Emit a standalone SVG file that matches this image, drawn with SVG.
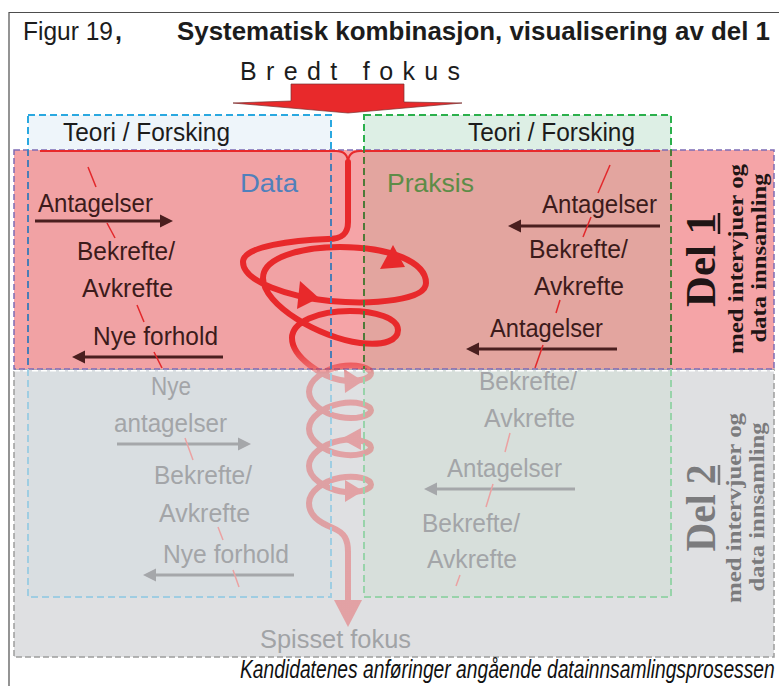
<svg xmlns="http://www.w3.org/2000/svg" width="779" height="686" viewBox="0 0 779 686">
  <style>
    .t{font-family:"Liberation Sans",Arial,sans-serif;font-size:25px}
    .dk{fill:#3c1b1b}
    .gr{fill:#a3a5a8}
    .hd{fill:#1c1c1c}
    .ser{font-family:"Liberation Serif","Times New Roman",serif;font-weight:bold;text-anchor:middle}
    .sl{stroke:#e2282b;stroke-width:1.5}
    .slf{stroke:#eba2a2;stroke-width:1.5}
    .ad{stroke:#4a1f1f;stroke-width:3;fill:none;marker-end:url(#hd)}
    .ag{stroke:#a5a7aa;stroke-width:3;fill:none;marker-end:url(#hg)}
    .bx{fill:none;stroke-width:2;stroke-dasharray:7 4}
  </style>
  <defs>
    <marker id="hd" markerUnits="userSpaceOnUse" markerWidth="14" markerHeight="14" refX="2" refY="6.5" orient="auto" viewBox="0 0 14 13">
      <path d="M0,0 L13,6.5 L0,13 z" fill="#4a1f1f"/>
    </marker>
    <marker id="hg" markerUnits="userSpaceOnUse" markerWidth="14" markerHeight="14" refX="2" refY="6.5" orient="auto" viewBox="0 0 14 13">
      <path d="M0,0 L13,6.5 L0,13 z" fill="#a5a7aa"/>
    </marker>
    <clipPath id="zHead"><rect x="0" y="0" width="779" height="150"/></clipPath>
    <clipPath id="zRed"><rect x="0" y="150" width="779" height="219"/></clipPath>
    <clipPath id="zGray"><rect x="0" y="369" width="779" height="317"/></clipPath>
    <linearGradient id="fadeGrad" gradientUnits="userSpaceOnUse" x1="0" y1="345" x2="0" y2="374">
      <stop offset="0" stop-color="#fff" stop-opacity="1"/>
      <stop offset="1" stop-color="#fff" stop-opacity="0.34"/>
    </linearGradient>
    <mask id="fade" maskUnits="userSpaceOnUse" x="0" y="0" width="779" height="686">
      <rect x="0" y="0" width="779" height="686" fill="url(#fadeGrad)"/>
    </mask>
  </defs>

  <rect width="779" height="686" fill="#fff"/>
  <!-- outer frame -->
  <path d="M9,700 V12.5 H790" fill="none" stroke="#4d4d4d" stroke-width="1.2"/>

  <!-- title -->
  <g id="title">
    <text class="t hd" x="23" y="40" font-size="25" textLength="90" lengthAdjust="spacingAndGlyphs">Figur 19</text>
    <text class="t hd" x="115" y="40" font-size="25" font-weight="bold">,</text>
    <text class="t hd" x="177" y="40" font-size="25" font-weight="bold" textLength="593" lengthAdjust="spacingAndGlyphs">Systematisk kombinasjon, visualisering av del 1</text>
    <text class="t hd" x="240" y="80" font-size="24" textLength="220">Bredt fokus</text>
  </g>

  <!-- box headers -->
  <rect x="28" y="115" width="303" height="35" fill="#eef5fa"/>
  <rect x="364" y="115" width="307" height="35" fill="#ddefe5"/>

  <!-- Del 2 band -->
  <g id="band-del2">
    <rect x="14" y="369" width="760" height="288" fill="#dfe0e2"/>
    <rect x="28" y="369" width="303" height="228" fill="#d9dee1"/>
    <rect x="364" y="369" width="307" height="228" fill="#d7dfdb"/>
    <rect x="14" y="369" width="760" height="288" fill="none" stroke="#9d9d9d" stroke-width="1.5" stroke-dasharray="6 3"/>
    <g transform="translate(715,508) rotate(-90)">
      <text class="ser" font-size="42" fill="#7b7b7d" textLength="87" lengthAdjust="spacingAndGlyphs">Del 2</text>
      <line x1="23" y1="4" x2="43" y2="4" stroke="#7b7b7d" stroke-width="2.5"/>
    </g>
    <text class="ser" font-size="21" fill="#7b7b7d" transform="translate(741,508) rotate(-90)" textLength="190" lengthAdjust="spacingAndGlyphs">med intervjuer og</text>
    <text class="ser" font-size="21" fill="#7b7b7d" transform="translate(764,507) rotate(-90)" textLength="169" lengthAdjust="spacingAndGlyphs">data innsamling</text>
  </g>

  <!-- Del 1 band -->
  <g id="band-del1">
    <rect x="14" y="150" width="760" height="219" fill="#f5a4a7"/>
    <rect x="28" y="150" width="303" height="219" fill="#f1a2a4"/>
    <rect x="364" y="150" width="307" height="219" fill="#e3a59f"/>
    <line x1="14" y1="370.8" x2="774" y2="370.8" stroke="#fff" stroke-width="1.5" stroke-dasharray="6 3"/>
    <rect x="14" y="150" width="760" height="219" fill="none" stroke="#7d6cb5" stroke-width="1.5" stroke-dasharray="6 3"/>
    <g transform="translate(715,260) rotate(-90)">
      <text class="ser" font-size="42" fill="#1f1515" textLength="94" lengthAdjust="spacingAndGlyphs">Del 1</text>
      <line x1="26" y1="4" x2="47" y2="4" stroke="#1f1515" stroke-width="2.5"/>
    </g>
    <text class="ser" font-size="21" fill="#1f1515" transform="translate(743,259) rotate(-90)" textLength="190" lengthAdjust="spacingAndGlyphs">med intervjuer og</text>
    <text class="ser" font-size="21" fill="#1f1515" transform="translate(766,258) rotate(-90)" textLength="169" lengthAdjust="spacingAndGlyphs">data innsamling</text>
  </g>

  <!-- connectors: broad-focus arrow and spiral -->
  <g id="connectors">
    <polygon points="291,84 404,84 404,102 462,103 348,113 233,103 291,101" fill="#e8292b" stroke="#7a3030" stroke-width="0.7"/>
    <g mask="url(#fade)" fill="#e8292b">
      <path d="M40,151 H336 Q348,151 348,163 M660,151 H360 Q348,151 348,163" fill="none" stroke="#e8292b" stroke-width="2"/>
      <path fill="none" stroke="#e8292b" stroke-width="6" stroke-linecap="round" stroke-linejoin="round"
        d="M348,162 L348,222 C348,234 342,239 328,239 C295,240 243,246 243,262 C243,282 290,297 330,301 C375,305 426,300 426,283 C426,262 390,247 340,247 C300,247 263,258 263,278 C263,305 320,338 360,343 C385,346 398,340 398,330 C398,318 375,311 350,311 C318,311 292,322 292,338 C292,358 323.8,376.9 340,380
        C356.2,383.1 371,378.5 371,373.2 C371,367.9 356.2,363.4 340,366.5 C323.8,369.6 309,380.3 309,391.8 C309,403.3 323.8,413.9 340,417
        C356.2,420.1 371,415.6 371,410.3 C371,405 356.2,400.5 340,403.6 C323.8,406.7 309,417.3 309,428.8 C309,440.3 323.8,451 340,454.1
        C356.2,457.2 371,452.7 371,447.4 C371,442.1 356.2,437.5 340,440.6 C323.8,443.7 309,454.4 309,465.9 C309,477.4 323.8,488.1 340,491.2
        C356.2,494.3 371,489.7 371,484.4 C371,479.1 356.2,474.6 340,477.7 C323.8,480.8 309,491.5 309,503
        C309,515 318,522 333,528 C345,533 348,540 348,552 L348,602"/>
      <polygon points="319,298 300,281 297,309"/>
      <polygon points="393,245 380,269 405,267"/>
      <polygon points="363,381 344,369 345,393"/>
      <polygon points="341,439 361,428 361,450"/>
      <polygon points="363,491 345,480 345,502"/>
      <polygon points="334,600 362,600 348,627"/>
    </g>

    <!-- text arrows -->
    <line class="ad" x1="35" y1="221" x2="162" y2="221"/>
    <line class="ad" x1="223" y1="357" x2="83" y2="357"/>
    <line class="ad" x1="660" y1="226" x2="519" y2="226"/>
    <line class="ad" x1="617" y1="349" x2="477" y2="349"/>
    <line class="ag" x1="117" y1="444" x2="240" y2="444"/>
    <line class="ag" x1="294" y1="575" x2="154" y2="575"/>
    <line class="ag" x1="575" y1="489" x2="435" y2="489"/>

    <!-- thin red marks -->
    <line class="sl" x1="88" y1="167" x2="96" y2="187"/>
    <line class="sl" x1="107" y1="223" x2="115" y2="238"/>
    <line class="sl" x1="137" y1="305" x2="144" y2="322"/>
    <line class="sl" x1="154" y1="352" x2="162" y2="368"/>
    <line class="sl" x1="610" y1="165" x2="598" y2="193"/>
    <line class="sl" x1="591" y1="217" x2="583" y2="237"/>
    <line class="sl" x1="560" y1="300" x2="556" y2="313"/>
    <line class="sl" x1="543" y1="345" x2="535" y2="368"/>
    <line class="slf" x1="185" y1="438" x2="193" y2="460"/>
    <line class="slf" x1="218" y1="527" x2="223" y2="540"/>
    <line class="slf" x1="233" y1="570" x2="239" y2="587"/>
    <line class="slf" x1="510" y1="433" x2="505" y2="452"/>
    <line class="slf" x1="493" y1="484" x2="486" y2="507"/>
    <line class="slf" x1="460" y1="575" x2="456" y2="586"/>
  </g>

  <!-- Data box -->
  <g id="box-data">
    <rect class="bx" x="28" y="115" width="303" height="482" stroke="#2aa8e0" clip-path="url(#zHead)"/>
    <rect class="bx" x="28" y="115" width="303" height="482" stroke="#4a7db6" clip-path="url(#zRed)"/>
    <rect class="bx" x="28" y="115" width="303" height="482" stroke="#9fcde2" clip-path="url(#zGray)"/>
    <text class="t hd" x="63" y="141" textLength="167" lengthAdjust="spacingAndGlyphs">Teori / Forsking</text>
    <text class="t" x="240" y="192" font-size="30" fill="#5080bb" textLength="58" lengthAdjust="spacingAndGlyphs">Data</text>
    <text class="t dk" x="38" y="212" textLength="115" lengthAdjust="spacingAndGlyphs">Antagelser</text>
    <text class="t dk" x="77" y="260" textLength="98" lengthAdjust="spacingAndGlyphs">Bekrefte/</text>
    <text class="t dk" x="82" y="297" textLength="91" lengthAdjust="spacingAndGlyphs">Avkrefte</text>
    <text class="t dk" x="93" y="345" textLength="125" lengthAdjust="spacingAndGlyphs">Nye forhold</text>
    <text class="t gr" x="151" y="395" textLength="40" lengthAdjust="spacingAndGlyphs">Nye</text>
    <text class="t gr" x="114" y="432" textLength="113" lengthAdjust="spacingAndGlyphs">antagelser</text>
    <text class="t gr" x="154" y="484" textLength="98" lengthAdjust="spacingAndGlyphs">Bekrefte/</text>
    <text class="t gr" x="159" y="522" textLength="91" lengthAdjust="spacingAndGlyphs">Avkrefte</text>
    <text class="t gr" x="163" y="563" textLength="126" lengthAdjust="spacingAndGlyphs">Nye forhold</text>
  </g>

  <!-- Praksis box -->
  <g id="box-praksis">
    <rect class="bx" x="364" y="115" width="307" height="482" stroke="#2bb04c" clip-path="url(#zHead)"/>
    <rect class="bx" x="364" y="115" width="307" height="482" stroke="#4e7a38" clip-path="url(#zRed)"/>
    <rect class="bx" x="364" y="115" width="307" height="482" stroke="#98d3aa" clip-path="url(#zGray)"/>
    <text class="t hd" x="468" y="141" textLength="167" lengthAdjust="spacingAndGlyphs">Teori / Forsking</text>
    <text class="t" x="387" y="192" font-size="30" fill="#5d8c47" textLength="87" lengthAdjust="spacingAndGlyphs">Praksis</text>
    <text class="t dk" x="542" y="213" textLength="115" lengthAdjust="spacingAndGlyphs">Antagelser</text>
    <text class="t dk" x="529" y="258" textLength="99" lengthAdjust="spacingAndGlyphs">Bekrefte/</text>
    <text class="t dk" x="534" y="295" textLength="90" lengthAdjust="spacingAndGlyphs">Avkrefte</text>
    <text class="t dk" x="490" y="337" textLength="113" lengthAdjust="spacingAndGlyphs">Antagelser</text>
    <text class="t gr" x="479" y="390" textLength="98" lengthAdjust="spacingAndGlyphs">Bekrefte/</text>
    <text class="t gr" x="484" y="427" textLength="91" lengthAdjust="spacingAndGlyphs">Avkrefte</text>
    <text class="t gr" x="447" y="477" textLength="115" lengthAdjust="spacingAndGlyphs">Antagelser</text>
    <text class="t gr" x="422" y="532" textLength="98" lengthAdjust="spacingAndGlyphs">Bekrefte/</text>
    <text class="t gr" x="427" y="568" textLength="90" lengthAdjust="spacingAndGlyphs">Avkrefte</text>
  </g>

  <!-- bottom labels -->
  <g id="footer">
    <text class="t" x="260" y="648" font-size="27" fill="#a1a3a6" textLength="151" lengthAdjust="spacingAndGlyphs">Spisset fokus</text>
    <!-- caption drawn horizontally condensed -->
    <text class="t" x="309.7" y="678" font-size="19" font-style="italic" fill="#111" transform="scale(0.775,1)" textLength="690" lengthAdjust="spacingAndGlyphs">Kandidatenes anføringer angående datainnsamlingsprosessen</text>
  </g>
</svg>
